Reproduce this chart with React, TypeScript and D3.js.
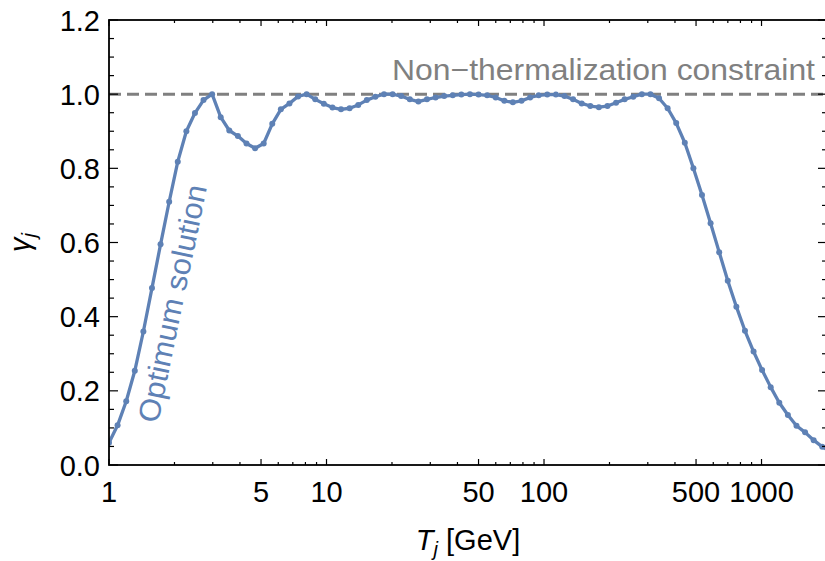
import React, { useEffect, useRef } from 'react';
import * as d3 from 'd3';

// T_j grid [GeV] (log spaced sample points)
const temperatures = [
  1.0, 1.095, 1.2, 1.314, 1.439, 1.576, 1.726, 1.891, 2.071, 2.268,
  2.484, 2.72, 2.979, 3.263, 3.573, 3.914, 4.287, 4.695, 5.142, 5.631,
  6.168, 6.755, 7.398, 8.102, 8.874, 9.72, 10.65, 11.66, 12.77, 13.99,
  15.32, 16.78, 18.38, 20.13, 22.04, 24.15, 26.45, 28.96, 31.72, 34.75,
  38.06, 41.68, 45.65, 50.0, 54.76, 59.98, 65.69, 71.94, 78.8, 86.3,
  94.52, 103.5, 113.4, 124.2, 136.0, 149.0, 163.2, 178.7, 195.7, 214.4,
  234.8, 257.2, 281.7, 308.5, 337.9, 370.1, 405.3, 443.9, 486.2, 532.5,
  583.2, 638.8, 699.6, 766.2, 839.2, 919.1, 1006, 1102, 1207, 1322,
  1448, 1586, 1737, 1902, 2084,
];

// gamma_j, optimum solution
const gammaValues = [
  0.06, 0.107, 0.172, 0.254, 0.36, 0.477, 0.595, 0.71, 0.818, 0.9,
  0.949, 0.984, 1.0, 0.938, 0.902, 0.887, 0.867, 0.854, 0.867, 0.92,
  0.959, 0.975, 0.994, 1.0, 0.986, 0.974, 0.964, 0.959, 0.962, 0.971,
  0.984, 0.993, 1.0, 1.0, 0.995, 0.986, 0.98, 0.986, 0.991, 0.995,
  0.997, 0.999, 1.0, 0.999, 0.997, 0.991, 0.982, 0.978, 0.982, 0.991,
  0.997, 0.999, 0.999, 0.995, 0.986, 0.975, 0.968, 0.965, 0.968, 0.977,
  0.986, 0.993, 1.0, 1.0, 0.989, 0.962, 0.922, 0.869, 0.8, 0.728,
  0.652, 0.574, 0.497, 0.427, 0.362, 0.306, 0.256, 0.21, 0.168, 0.135,
  0.106, 0.088, 0.067, 0.049, 0.036,
];

const constraintLevel = 1.0;

const xMajorTicks = [1, 5, 10, 50, 100, 500, 1000];
const xMinorTicks = [2, 3, 4, 6, 7, 8, 9, 20, 30, 40, 60, 70, 80, 90, 200, 300, 400, 600, 700, 800, 900, 2000];
const yMajorTicks = [0, 0.2, 0.4, 0.6, 0.8, 1.0, 1.2];
const yMinorTicks = [0.05, 0.1, 0.15, 0.25, 0.3, 0.35, 0.45, 0.5, 0.55, 0.65, 0.7, 0.75, 0.85, 0.9, 0.95, 1.05, 1.1, 1.15];

const App = () => {
  const ref = useRef<SVGSVGElement | null>(null);

  useEffect(() => {
    const svg = d3.select(ref.current);
    svg.selectAll('*').remove();

    const width = 825;
    const height = 561;
    const plot = { left: 109, right: 827, top: 20, bottom: 465 };
    const font = 'Liberation Sans, Arial, Helvetica, sans-serif';
    const blue = '#5e81b5';
    const grey = '#808080';

    const x = d3.scaleLog().domain([1, 2000]).range([plot.left, plot.right]);
    const y = d3.scaleLinear().domain([0, 1.2]).range([plot.bottom, plot.top]);

    svg.append('rect').attr('width', width).attr('height', height).attr('fill', '#fff');

    svg.append('clipPath').attr('id', 'plot-clip')
      .append('rect')
      .attr('x', plot.left).attr('y', plot.top)
      .attr('width', plot.right - plot.left).attr('height', plot.bottom - plot.top);

    const inner = svg.append('g').attr('clip-path', 'url(#plot-clip)');

    // non-thermalization constraint
    inner.append('line')
      .attr('x1', plot.left).attr('x2', plot.right)
      .attr('y1', y(constraintLevel)).attr('y2', y(constraintLevel))
      .attr('stroke', grey).attr('stroke-width', 3)
      .attr('stroke-dasharray', '12,6');

    const points = temperatures.map((t, i) => [t, gammaValues[i]] as [number, number]);

    const line = d3.line<[number, number]>()
      .x(d => x(d[0]))
      .y(d => y(d[1]));

    inner.append('path')
      .datum(points)
      .attr('d', line)
      .attr('fill', 'none')
      .attr('stroke', blue)
      .attr('stroke-width', 3.3)
      .attr('stroke-linejoin', 'round');

    inner.append('g')
      .selectAll('circle')
      .data(points)
      .enter().append('circle')
      .attr('cx', d => x(d[0]))
      .attr('cy', d => y(d[1]))
      .attr('r', 3)
      .attr('fill', blue);

    // frame + ticks
    const axes = svg.append('g').attr('stroke', '#000');
    axes.append('rect')
      .attr('x', plot.left).attr('y', plot.top)
      .attr('width', plot.right - plot.left).attr('height', plot.bottom - plot.top)
      .attr('fill', 'none').attr('stroke-width', 1.8);

    const xTicks = [
      ...xMajorTicks.map(v => ({ v, len: 6 })),
      ...xMinorTicks.map(v => ({ v, len: 3 })),
    ];
    xTicks.forEach(t => {
      axes.append('line')
        .attr('x1', x(t.v)).attr('x2', x(t.v))
        .attr('y1', plot.bottom).attr('y2', plot.bottom - t.len)
        .attr('stroke-width', 1.2);
      axes.append('line')
        .attr('x1', x(t.v)).attr('x2', x(t.v))
        .attr('y1', plot.top).attr('y2', plot.top + t.len)
        .attr('stroke-width', 1.2);
    });

    const yTicks = [
      ...yMajorTicks.map(v => ({ v, len: 9 })),
      ...yMinorTicks.map(v => ({ v, len: 5 })),
    ];
    yTicks.forEach(t => {
      axes.append('line')
        .attr('x1', plot.left).attr('x2', plot.left + t.len)
        .attr('y1', y(t.v)).attr('y2', y(t.v))
        .attr('stroke-width', 1.2);
      axes.append('line')
        .attr('x1', plot.right).attr('x2', plot.right - t.len)
        .attr('y1', y(t.v)).attr('y2', y(t.v))
        .attr('stroke-width', 1.2);
    });

    // tick labels
    svg.append('g')
      .selectAll('text')
      .data(xMajorTicks)
      .enter().append('text')
      .attr('x', d => x(d))
      .attr('y', 502)
      .attr('text-anchor', 'middle')
      .attr('font-family', font)
      .attr('font-size', 29)
      .attr('fill', '#000')
      .text(d => String(d));

    svg.append('g')
      .selectAll('text')
      .data(yMajorTicks)
      .enter().append('text')
      .attr('x', plot.left - 9)
      .attr('y', d => y(d) + 10.5)
      .attr('text-anchor', 'end')
      .attr('font-family', font)
      .attr('font-size', 29)
      .attr('fill', '#000')
      .text(d => d3.format('.1f')(d));

    // axis titles
    const xTitle = svg.append('text')
      .attr('x', (plot.left + plot.right) / 2)
      .attr('y', 550)
      .attr('text-anchor', 'middle')
      .attr('font-family', font)
      .attr('font-size', 29)
      .attr('fill', '#000');
    xTitle.append('tspan').attr('font-style', 'italic').text('T');
    xTitle.append('tspan').attr('font-style', 'italic').attr('font-size', 20).attr('dy', 6).text('j');
    xTitle.append('tspan').attr('dy', -6).text(' [GeV]');

    const yTitle = svg.append('text')
      .attr('transform', `translate(30,${(plot.top + plot.bottom) / 2}) rotate(-90)`)
      .attr('text-anchor', 'middle')
      .attr('font-family', font)
      .attr('font-size', 29)
      .attr('fill', '#000');
    yTitle.append('tspan').attr('font-style', 'italic').text('γ');
    yTitle.append('tspan').attr('font-style', 'italic').attr('font-size', 20).attr('dy', 6).text('j');

    // annotations
    svg.append('text')
      .attr('x', 392)
      .attr('y', 80)
      .attr('font-family', font)
      .attr('font-size', 30)
      .attr('fill', grey)
      .attr('textLength', 423)
      .attr('lengthAdjust', 'spacingAndGlyphs')
      .text('Non\u2212thermalization constraint');

    svg.append('text')
      .attr('transform', 'translate(158,424) rotate(-78.3)')
      .attr('font-family', font)
      .attr('font-size', 30)
      .attr('fill', blue)
      .attr('textLength', 242)
      .attr('lengthAdjust', 'spacingAndGlyphs')
      .text('Optimum solution');
  }, []);

  return (
    <svg
      ref={ref}
      width={825}
      height={561}
      style={{ position: 'absolute', left: 0, top: 0, display: 'block' }}
    />
  );
};

export default App;
